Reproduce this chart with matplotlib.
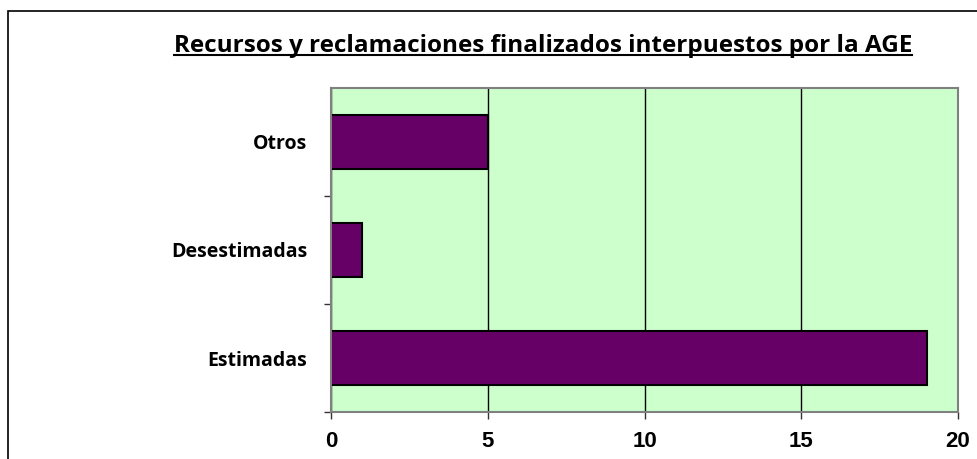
import matplotlib.pyplot as plt
from matplotlib.patches import Rectangle
from matplotlib.lines import Line2D
from matplotlib.font_manager import FontProperties

# Datos del gráfico
categorias = ['Estimadas', 'Desestimadas', 'Otros']
valores = [19, 1, 5]
ticks_x = [0, 5, 10, 15, 20]
titulo = 'Recursos y reclamaciones finalizados interpuestos por la AGE'

W, H = 977, 459
fig = plt.figure(figsize=(W / 100, H / 100), dpi=100)

# marco exterior (gráfico de Excel recortado)
fig.patches.append(Rectangle((8 / W, -0.2), 1.2, 1.2 - 11 / H, transform=fig.transFigure,
                             fill=False, edgecolor='black', linewidth=1.2))

ax = fig.add_axes([331 / W, 1 - 412 / H, (958 - 331) / W, (412 - 88) / H])
ax.set_facecolor('#CCFFCC')

pos = range(len(categorias))
ax.barh(pos, valores, height=0.5, color='#660066', edgecolor='black', linewidth=1.5, zorder=3)

fp_num = FontProperties(family='Liberation Sans', weight='bold', size=16)
fp_cat = FontProperties(family='Open Sans', weight='bold', size=14)
fp_tit = FontProperties(family='Open Sans', weight='bold', size=17.5)

ax.set_xlim(0, 20)
ax.set_ylim(-0.5, len(categorias) - 0.5)
ax.set_xticks(ticks_x)
ax.set_xticklabels([str(t) for t in ticks_x], fontproperties=fp_num)
ax.xaxis.grid(True, color='black', linewidth=1, zorder=1)
ax.tick_params(axis='x', direction='out', length=5, width=1, color='#333333', pad=9)

# marcas en los límites de categoría, etiquetas en el centro
ax.set_yticks([p + 0.5 for p in pos][:-1] + [-0.5])
ax.set_yticklabels([])
ax.set_yticks(list(pos), minor=True)
ax.set_yticklabels(categorias, minor=True, fontproperties=fp_cat)
ax.tick_params(axis='y', which='major', direction='out', length=5, width=1, color='#333333')
ax.tick_params(axis='y', which='minor', length=0, pad=17)

for s in ax.spines.values():
    s.set_color('#808080')
    s.set_linewidth(1.5)
    s.set_zorder(4)

# título subrayado
t = fig.text(543 / W, 1 - 52 / H, titulo, ha='center', va='baseline', fontproperties=fp_tit)
fig.canvas.draw()
bb = t.get_window_extent()
fig.lines.append(Line2D([bb.x0 / W, bb.x1 / W], [(1 - 55 / H), (1 - 55 / H)],
                        transform=fig.transFigure, color='black', linewidth=1.5))

plt.savefig('out.png', dpi=100)
